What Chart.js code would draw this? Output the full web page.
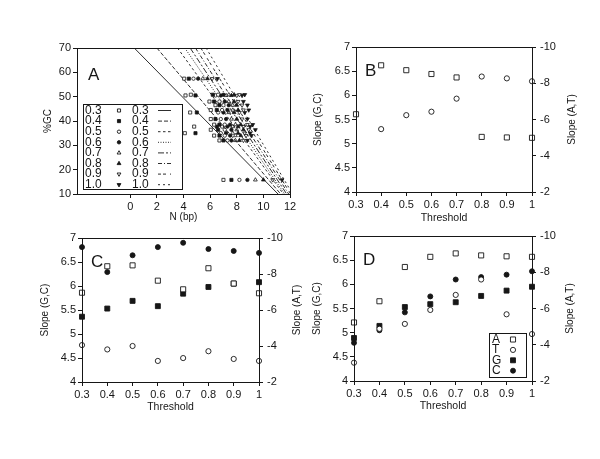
<!DOCTYPE html>
<html>
<head>
<meta charset="utf-8">
<script src="https://cdn.jsdelivr.net/npm/chart.js@4.4.0/dist/chart.umd.min.js"></script>
<style>
  html, body { margin: 0; padding: 0; background: #fff; }
  #wrap { position: relative; width: 600px; height: 459px; }
  #wrap canvas { position: absolute; left: 0; top: 0; }
</style>
</head>
<body>
<div id="wrap">
  <canvas id="panelA" width="600" height="459"></canvas>
  <canvas id="panelB" width="600" height="459"></canvas>
  <canvas id="panelC" width="600" height="459"></canvas>
  <canvas id="panelD" width="600" height="459"></canvas>
</div>
<script>
// ---- Panel A: %GC against N (bp), one series per threshold ----
var thresholdLabels = ['0.3', '0.4', '0.5', '0.6', '0.7', '0.8', '0.9', '1.0'];
var gcRows = [57.4, 50.5, 50.8, 48.0, 46.5, 44.5, 43.5, 40.8, 38.5, 37.7, 36.4, 35.0, 34.0, 32.0, 15.8];
var nAt03 = [4.05, 4.15, 4.55, 5.95, 6.4, 6.05, 4.5, 6.05, 6.3, 4.8, 6.05, 4.1, 6.3, 6.7, 7.0];
var nAt04 = [4.4, 4.9, 6.2, 6.3, 6.7, 6.5, 5.0, 6.4, 6.7, 6.5, 6.6, 4.9, 6.7, 7.0, 7.6];
var nAt05 = [4.75, 6.4, 6.6, 6.7, 7.0, 6.9, 6.6, 6.8, 7.1, 6.9, 7.1, 6.8, 7.1, 7.3, 8.2];
var nAt06 = [5.1, 6.8, 7.0, 7.1, 7.4, 7.3, 7.0, 7.2, 7.5, 7.3, 7.6, 7.2, 7.5, 7.6, 8.8];
var nAt07 = [5.45, 7.2, 7.4, 7.4, 7.7, 7.7, 7.4, 7.6, 7.9, 7.7, 8.0, 7.7, 7.9, 7.9, 9.4];
var nAt08 = [5.8, 7.6, 7.8, 7.8, 8.0, 8.1, 7.8, 8.0, 8.3, 8.1, 8.5, 8.1, 8.3, 8.2, 10.0];
var nAt09 = [6.15, 8.0, 8.2, 8.1, 8.4, 8.5, 8.2, 8.4, 8.8, 8.5, 8.9, 8.6, 8.7, 8.5, 10.7];
var nAt10 = [6.55, 8.4, 8.6, 8.5, 8.8, 8.9, 8.6, 8.8, 9.2, 9.0, 9.4, 9.0, 9.1, 8.8, 11.4];
var nByThreshold = [nAt03, nAt04, nAt05, nAt06, nAt07, nAt08, nAt09, nAt10];
// fitted lines: N where each line meets 70 %GC and 10 %GC
var lineGC = [70, 10];
var lineTopN = [0.3, 2.0, 3.55, 4.1, 4.5, 4.9, 5.3, 5.7];
var lineBottomN = [11.1, 11.3, 11.5, 11.6, 11.75, 11.9, 12.05, 12.2];

// ---- Panels B-D: slopes against threshold ----
var thresholds = [0.3, 0.4, 0.5, 0.6, 0.7, 0.8, 0.9, 1.0];
var bA = [-6.29, -8.99, -8.72, -8.51, -8.32, -5.04, -5.01, -4.99];
var bT = [null, -5.47, -6.24, -6.43, -7.15, -8.37, -8.27, -8.11];
var cA = [-6.96, -8.43, -8.48, -7.63, -7.15, -8.32, -7.47, -6.93];
var cT = [-4.05, -3.81, -4.0, -3.17, -3.33, -3.71, -3.28, -3.17];
var cG = [5.36, 5.53, 5.69, 5.58, 5.84, 5.98, 6.05, 6.08];
var cC = [6.81, 6.29, 6.64, 6.81, 6.90, 6.77, 6.73, 6.69];
var dA = [-5.23, -6.40, -8.29, -8.85, -9.04, -8.93, -8.88, -8.85];
var dT = [-3.01, -4.88, -5.15, -5.92, -6.75, -7.60, -5.68, -4.59];
var dG = [4.89, 5.14, 5.53, 5.59, 5.63, 5.76, 5.87, 5.95];
var dC = [4.79, 5.05, 5.42, 5.75, 6.10, 6.15, 6.20, 6.27];
var baseLabels = ['A', 'T', 'G', 'C'];

var W = 600, H = 459;
var ink = '#161616';
var family = '"Liberation Sans", Arial, Helvetica, sans-serif';
Chart.defaults.font.family = family;
Chart.defaults.color = ink;

// marker look per threshold in panel A
var markersA = [
    { style: 'rect', fill: false, r: 2.2, rot: 0 },
    { style: 'rect', fill: true, r: 2.2, rot: 0 },
    { style: 'circle', fill: false, r: 1.7, rot: 0 },
    { style: 'circle', fill: true, r: 1.7, rot: 0 },
    { style: 'triangle', fill: false, r: 2.2, rot: 0 },
    { style: 'triangle', fill: true, r: 2.2, rot: 0 },
    { style: 'triangle', fill: false, r: 2.2, rot: 180 },
    { style: 'triangle', fill: true, r: 2.2, rot: 180 }
];
var dashesA = [[], [4, 2], [2.5, 2.5], [1, 1.5], [6, 2, 2, 2], [4, 2, 1, 2], [3, 2, 3, 4], [2, 3]];

// marker look per base in panels B-D
var markersBase = {
    A: { style: 'rect', fill: false, r: 3.6 },
    T: { style: 'circle', fill: false, r: 2.6 },
    G: { style: 'rect', fill: true, r: 3.5 },
    C: { style: 'circle', fill: true, r: 2.5 }
};

function toPoints(xs, ys) {
    var pts = [];
    xs.forEach(function (x, i) {
        if (ys[i] !== null) pts.push({ x: x, y: ys[i] });
    });
    return pts;
}

function axis(min, max, step, titleText, titleSize, fixedSize, horizontal) {
    return {
        type: 'linear',
        min: min,
        max: max,
        ticks: {
            stepSize: step, font: { size: 11 }, color: ink, padding: 2,
            callback: function (v) { return String(Math.round(v * 100) / 100); }
        },
        grid: { drawOnChartArea: false, tickLength: 4, color: ink },
        border: { display: true, color: ink, width: 1 },
        title: { display: true, text: titleText, font: { size: titleSize }, color: ink, padding: 0 },
        afterFit: function (scale) {
            if (horizontal) scale.height = fixedSize; else scale.width = fixedSize;
        }
    };
}

// frame around plot area, the panel letter and (optionally) the right axis title
function framePlugin(letter, dx, dy, rightTitle) {
    return {
        id: 'frame' + letter,
        afterDraw: function (chart) {
            var ctx = chart.ctx, a = chart.chartArea;
            ctx.save();
            ctx.strokeStyle = ink;
            ctx.lineWidth = 1;
            ctx.strokeRect(Math.round(a.left) + 0.5, Math.round(a.top) + 0.5,
                Math.round(a.right - a.left), Math.round(a.bottom - a.top));
            ctx.fillStyle = ink;
            ctx.font = '17px ' + family;
            ctx.textBaseline = 'alphabetic';
            ctx.fillText(letter, a.left + dx, a.top + dy);
            if (rightTitle && chart.scales.y2) {
                var s = chart.scales.y2;
                ctx.font = '10px ' + family;
                ctx.textAlign = 'center';
                ctx.textBaseline = 'middle';
                ctx.translate(s.right - 6, (a.top + a.bottom) / 2);
                ctx.rotate(-Math.PI / 2);
                ctx.fillText(rightTitle, 0, 0);
            }
            ctx.restore();
        }
    };
}

function drawMarker(ctx, m, x, y) {
    ctx.fillStyle = m.fill ? ink : '#fff';
    ctx.strokeStyle = ink;
    ctx.lineWidth = 0.9;
    Chart.helpers.drawPoint(ctx, { pointStyle: m.style, radius: m.r, rotation: m.rot || 0, borderWidth: 0.9 }, x, y);
}

var legendA = {
    id: 'legendA',
    afterDraw: function (chart) {
        var ctx = chart.ctx, a = chart.chartArea;
        var x0 = Math.round(a.left + 6), y0 = Math.round(a.top + 56), w = 99, h = 85;
        ctx.save();
        ctx.fillStyle = '#fff';
        ctx.fillRect(x0, y0, w, h);
        ctx.strokeStyle = ink;
        ctx.lineWidth = 1;
        ctx.strokeRect(x0 + 0.5, y0 + 0.5, w, h);
        ctx.font = '12px ' + family;
        ctx.textBaseline = 'middle';
        thresholdLabels.forEach(function (lab, i) {
            var y = y0 + 6.5 + i * 10.6;
            ctx.fillStyle = ink;
            ctx.fillText(lab, x0 + 2, y);
            ctx.fillText(lab, x0 + 49, y);
            drawMarker(ctx, markersA[i], x0 + 36, y);
            ctx.beginPath();
            ctx.setLineDash(dashesA[i]);
            ctx.strokeStyle = ink;
            ctx.lineWidth = 0.9;
            ctx.moveTo(x0 + 75, y);
            ctx.lineTo(x0 + 88, y);
            ctx.stroke();
            ctx.setLineDash([]);
        });
        ctx.restore();
    }
};

var legendD = {
    id: 'legendD',
    afterDraw: function (chart) {
        var ctx = chart.ctx, a = chart.chartArea;
        var x0 = Math.round(a.right - 43), y0 = Math.round(a.bottom - 48), w = 37, h = 44;
        ctx.save();
        ctx.fillStyle = '#fff';
        ctx.fillRect(x0, y0, w, h);
        ctx.strokeStyle = ink;
        ctx.lineWidth = 1;
        ctx.strokeRect(x0 + 0.5, y0 + 0.5, w, h);
        ctx.font = '12px ' + family;
        ctx.textBaseline = 'middle';
        baseLabels.forEach(function (lab, i) {
            var y = y0 + 6.5 + i * 10.4;
            ctx.fillStyle = ink;
            ctx.fillText(lab, x0 + 3, y);
            drawMarker(ctx, markersBase[lab], x0 + 24, y);
        });
        ctx.restore();
    }
};

function baseDataset(lab, xs, ys, axisId) {
    var m = markersBase[lab];
    return {
        label: lab,
        data: toPoints(xs, ys),
        yAxisID: axisId,
        pointStyle: m.style,
        pointRadius: m.r,
        pointBackgroundColor: m.fill ? ink : '#fff',
        pointBorderColor: ink,
        pointBorderWidth: 0.9,
        clip: false
    };
}

// area = plot box in page pixels; yW / rW / xH = sizes of left axis, right axis, x axis
function slopeChart(id, area, yW, rW, xH, datasets, letter, extraPlugins) {
    var x = axis(0.3, 1.0, 0.1, 'Threshold', 10.5, xH, true);
    var y = axis(4, 7, 0.5, 'Slope (G,C)', 10, yW, false);
    var y2 = axis(-10, -2, 2, '', 10, rW, false);
    y2.title.display = false;
    y2.position = 'right';
    y2.reverse = true;
    y2.ticks.padding = 4;
    new Chart(document.getElementById(id), {
        type: 'scatter',
        data: { datasets: datasets },
        options: {
            responsive: false,
            animation: false,
            devicePixelRatio: 1,
            layout: { padding: { left: area.left - yW, top: area.top, right: W - area.right - rW, bottom: H - area.bottom - xH } },
            plugins: { legend: { display: false }, tooltip: { enabled: false } },
            scales: { x: x, y: y, y2: y2 }
        },
        plugins: [framePlugin(letter, 9, 29, 'Slope (A,T)')].concat(extraPlugins || [])
    });
}

// ---- Panel A ----
(function () {
    var area = { left: 77, right: 290, top: 48, bottom: 194 };
    var yW = 35, xH = 29;
    var datasets = [];
    thresholdLabels.forEach(function (lab, i) {
        var m = markersA[i];
        datasets.push({
            label: lab,
            data: gcRows.map(function (gc, j) { return { x: nByThreshold[i][j], y: gc }; }),
            pointStyle: m.style,
            pointRadius: m.r,
            pointRotation: m.rot,
            pointBackgroundColor: m.fill ? ink : '#fff',
            pointBorderColor: ink,
            pointBorderWidth: 0.8
        });
        datasets.push({
            label: lab + ' fit',
            data: [{ x: lineTopN[i], y: lineGC[0] }, { x: lineBottomN[i], y: lineGC[1] }],
            showLine: true,
            pointRadius: 0,
            borderColor: ink,
            borderWidth: 0.9,
            borderDash: dashesA[i]
        });
    });
    var x = axis(-4, 12, 2, 'N (bp)', 10, xH, true);
    x.afterBuildTicks = function (scale) {
        scale.ticks = scale.ticks.filter(function (t) { return t.value >= 0; });
    };
    var y = axis(10, 70, 10, '%GC', 10, yW, false);
    new Chart(document.getElementById('panelA'), {
        type: 'scatter',
        data: { datasets: datasets },
        options: {
            responsive: false,
            animation: false,
            devicePixelRatio: 1,
            layout: { padding: { left: area.left - yW, top: area.top, right: W - area.right, bottom: H - area.bottom - xH } },
            plugins: { legend: { display: false }, tooltip: { enabled: false } },
            scales: { x: x, y: y }
        },
        plugins: [framePlugin('A', 11, 32), legendA]
    });
})();

// ---- Panel B ----
slopeChart('panelB', { left: 356, right: 532, top: 47, bottom: 192 }, 44, 46, 32, [
    baseDataset('A', thresholds, bA, 'y2'),
    baseDataset('T', thresholds, bT, 'y2')
], 'B');

// ---- Panel C ----
slopeChart('panelC', { left: 82, right: 259, top: 238, bottom: 382 }, 43, 44, 31, [
    baseDataset('A', thresholds, cA, 'y2'),
    baseDataset('T', thresholds, cT, 'y2'),
    baseDataset('G', thresholds, cG, 'y'),
    baseDataset('C', thresholds, cC, 'y')
], 'C');

// ---- Panel D ----
slopeChart('panelD', { left: 354, right: 532, top: 236, bottom: 381 }, 43, 44, 31, [
    baseDataset('A', thresholds, dA, 'y2'),
    baseDataset('T', thresholds, dT, 'y2'),
    baseDataset('G', thresholds, dG, 'y'),
    baseDataset('C', thresholds, dC, 'y')
], 'D', [legendD]);
</script>
</body>
</html>
